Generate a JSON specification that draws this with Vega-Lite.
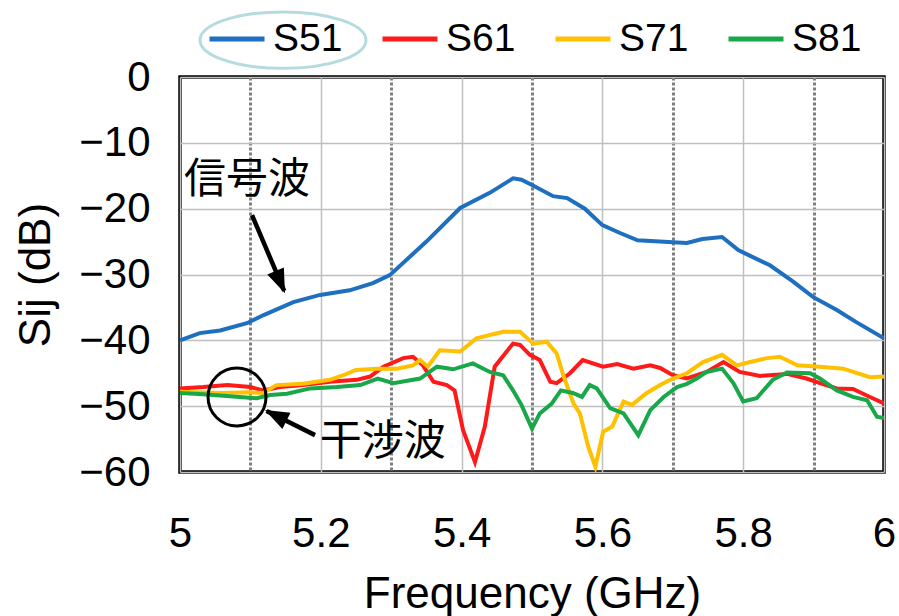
{
  "$schema": "https://vega.github.io/schema/vega-lite/v6.json",
  "width": 704,
  "height": 395,
  "autosize": {"type": "none"},
  "padding": {"left": 180, "top": 77, "right": 15, "bottom": 144},
  "background": "white",
  "config": {
    "view": {"stroke": "black", "strokeWidth": 3.5},
    "font": "Liberation Sans"
  },
  "datasets": {
    "curves": [
      {"s":"S51","f":5.000,"v":-40.0},{"s":"S51","f":5.028,"v":-38.9},{"s":"S51","f":5.057,"v":-38.5},{"s":"S51","f":5.095,"v":-37.4},{"s":"S51","f":5.118,"v":-36.2},{"s":"S51","f":5.161,"v":-34.2},{"s":"S51","f":5.199,"v":-33.1},{"s":"S51","f":5.241,"v":-32.4},{"s":"S51","f":5.274,"v":-31.3},{"s":"S51","f":5.298,"v":-30.1},{"s":"S51","f":5.350,"v":-25.0},{"s":"S51","f":5.398,"v":-19.9},{"s":"S51","f":5.440,"v":-17.6},{"s":"S51","f":5.473,"v":-15.4},{"s":"S51","f":5.485,"v":-15.6},{"s":"S51","f":5.500,"v":-16.4},{"s":"S51","f":5.530,"v":-18.1},{"s":"S51","f":5.550,"v":-18.4},{"s":"S51","f":5.575,"v":-20.0},{"s":"S51","f":5.600,"v":-22.5},{"s":"S51","f":5.625,"v":-23.7},{"s":"S51","f":5.650,"v":-24.8},{"s":"S51","f":5.700,"v":-25.1},{"s":"S51","f":5.720,"v":-25.2},{"s":"S51","f":5.742,"v":-24.6},{"s":"S51","f":5.770,"v":-24.3},{"s":"S51","f":5.793,"v":-26.3},{"s":"S51","f":5.838,"v":-28.6},{"s":"S51","f":5.870,"v":-31.0},{"s":"S51","f":5.899,"v":-33.4},{"s":"S51","f":5.933,"v":-35.4},{"s":"S51","f":5.960,"v":-37.2},{"s":"S51","f":6.000,"v":-39.7},
      {"s":"S61","f":5.000,"v":-47.3},{"s":"S61","f":5.033,"v":-47.1},{"s":"S61","f":5.067,"v":-46.8},{"s":"S61","f":5.100,"v":-47.1},{"s":"S61","f":5.118,"v":-47.6},{"s":"S61","f":5.142,"v":-47.1},{"s":"S61","f":5.175,"v":-46.8},{"s":"S61","f":5.213,"v":-46.3},{"s":"S61","f":5.251,"v":-46.0},{"s":"S61","f":5.270,"v":-45.5},{"s":"S61","f":5.289,"v":-44.0},{"s":"S61","f":5.317,"v":-42.7},{"s":"S61","f":5.331,"v":-42.5},{"s":"S61","f":5.345,"v":-43.8},{"s":"S61","f":5.360,"v":-46.3},{"s":"S61","f":5.379,"v":-46.8},{"s":"S61","f":5.390,"v":-47.6},{"s":"S61","f":5.402,"v":-53.6},{"s":"S61","f":5.419,"v":-58.5},{"s":"S61","f":5.433,"v":-53.1},{"s":"S61","f":5.447,"v":-44.0},{"s":"S61","f":5.473,"v":-40.5},{"s":"S61","f":5.483,"v":-40.7},{"s":"S61","f":5.497,"v":-42.2},{"s":"S61","f":5.511,"v":-43.0},{"s":"S61","f":5.526,"v":-46.3},{"s":"S61","f":5.535,"v":-46.5},{"s":"S61","f":5.554,"v":-45.0},{"s":"S61","f":5.572,"v":-43.0},{"s":"S61","f":5.601,"v":-44.0},{"s":"S61","f":5.621,"v":-43.6},{"s":"S61","f":5.644,"v":-44.3},{"s":"S61","f":5.668,"v":-43.8},{"s":"S61","f":5.682,"v":-44.2},{"s":"S61","f":5.700,"v":-45.3},{"s":"S61","f":5.720,"v":-45.8},{"s":"S61","f":5.748,"v":-44.8},{"s":"S61","f":5.772,"v":-43.3},{"s":"S61","f":5.795,"v":-44.8},{"s":"S61","f":5.824,"v":-45.4},{"s":"S61","f":5.862,"v":-45.1},{"s":"S61","f":5.890,"v":-45.8},{"s":"S61","f":5.909,"v":-46.5},{"s":"S61","f":5.933,"v":-47.3},{"s":"S61","f":5.956,"v":-47.4},{"s":"S61","f":5.980,"v":-48.6},{"s":"S61","f":6.000,"v":-49.6},
      {"s":"S71","f":5.000,"v":-47.8},{"s":"S71","f":5.057,"v":-48.0},{"s":"S71","f":5.100,"v":-47.9},{"s":"S71","f":5.118,"v":-48.0},{"s":"S71","f":5.137,"v":-46.8},{"s":"S71","f":5.175,"v":-46.6},{"s":"S71","f":5.213,"v":-46.0},{"s":"S71","f":5.232,"v":-45.3},{"s":"S71","f":5.250,"v":-44.5},{"s":"S71","f":5.280,"v":-44.3},{"s":"S71","f":5.308,"v":-44.3},{"s":"S71","f":5.331,"v":-43.8},{"s":"S71","f":5.341,"v":-43.0},{"s":"S71","f":5.352,"v":-44.0},{"s":"S71","f":5.369,"v":-41.5},{"s":"S71","f":5.398,"v":-41.7},{"s":"S71","f":5.421,"v":-39.7},{"s":"S71","f":5.459,"v":-38.7},{"s":"S71","f":5.483,"v":-38.7},{"s":"S71","f":5.502,"v":-40.5},{"s":"S71","f":5.521,"v":-40.2},{"s":"S71","f":5.535,"v":-42.0},{"s":"S71","f":5.545,"v":-45.5},{"s":"S71","f":5.559,"v":-49.6},{"s":"S71","f":5.568,"v":-51.1},{"s":"S71","f":5.580,"v":-56.2},{"s":"S71","f":5.590,"v":-59.2},{"s":"S71","f":5.601,"v":-53.9},{"s":"S71","f":5.614,"v":-53.1},{"s":"S71","f":5.630,"v":-49.3},{"s":"S71","f":5.642,"v":-49.8},{"s":"S71","f":5.663,"v":-48.0},{"s":"S71","f":5.682,"v":-46.8},{"s":"S71","f":5.700,"v":-45.8},{"s":"S71","f":5.720,"v":-45.0},{"s":"S71","f":5.743,"v":-43.3},{"s":"S71","f":5.770,"v":-42.2},{"s":"S71","f":5.791,"v":-43.8},{"s":"S71","f":5.810,"v":-43.3},{"s":"S71","f":5.834,"v":-42.7},{"s":"S71","f":5.852,"v":-42.5},{"s":"S71","f":5.877,"v":-43.8},{"s":"S71","f":5.909,"v":-44.0},{"s":"S71","f":5.942,"v":-44.3},{"s":"S71","f":5.980,"v":-45.6},{"s":"S71","f":6.000,"v":-45.5},
      {"s":"S81","f":5.000,"v":-48.0},{"s":"S81","f":5.033,"v":-48.2},{"s":"S81","f":5.071,"v":-48.5},{"s":"S81","f":5.109,"v":-48.8},{"s":"S81","f":5.128,"v":-48.3},{"s":"S81","f":5.152,"v":-48.1},{"s":"S81","f":5.185,"v":-47.3},{"s":"S81","f":5.223,"v":-47.1},{"s":"S81","f":5.256,"v":-46.8},{"s":"S81","f":5.281,"v":-45.8},{"s":"S81","f":5.303,"v":-46.5},{"s":"S81","f":5.341,"v":-45.8},{"s":"S81","f":5.365,"v":-44.0},{"s":"S81","f":5.388,"v":-44.4},{"s":"S81","f":5.416,"v":-43.5},{"s":"S81","f":5.440,"v":-44.8},{"s":"S81","f":5.459,"v":-45.3},{"s":"S81","f":5.473,"v":-47.6},{"s":"S81","f":5.485,"v":-49.8},{"s":"S81","f":5.500,"v":-53.4},{"s":"S81","f":5.511,"v":-51.1},{"s":"S81","f":5.528,"v":-49.6},{"s":"S81","f":5.541,"v":-47.6},{"s":"S81","f":5.558,"v":-48.0},{"s":"S81","f":5.571,"v":-48.6},{"s":"S81","f":5.582,"v":-46.8},{"s":"S81","f":5.592,"v":-47.3},{"s":"S81","f":5.611,"v":-50.3},{"s":"S81","f":5.630,"v":-51.1},{"s":"S81","f":5.651,"v":-54.4},{"s":"S81","f":5.668,"v":-50.6},{"s":"S81","f":5.687,"v":-48.6},{"s":"S81","f":5.706,"v":-47.1},{"s":"S81","f":5.720,"v":-46.6},{"s":"S81","f":5.734,"v":-45.8},{"s":"S81","f":5.748,"v":-44.8},{"s":"S81","f":5.770,"v":-44.3},{"s":"S81","f":5.786,"v":-46.5},{"s":"S81","f":5.800,"v":-49.3},{"s":"S81","f":5.819,"v":-48.8},{"s":"S81","f":5.842,"v":-46.0},{"s":"S81","f":5.862,"v":-44.9},{"s":"S81","f":5.895,"v":-45.0},{"s":"S81","f":5.909,"v":-45.8},{"s":"S81","f":5.933,"v":-47.6},{"s":"S81","f":5.956,"v":-48.6},{"s":"S81","f":5.976,"v":-49.1},{"s":"S81","f":5.990,"v":-51.6},{"s":"S81","f":6.000,"v":-51.8}
    ],
    "labels": [
      {"t":"信号波","f":5.095,"v":-15.6},
      {"t":"干涉波","f":5.288,"v":-55.5}
    ],
    "arrows": [
      {"f":5.1023,"v":-20.97,"f2":5.1480,"v2":-32.5},
      {"f":5.1918,"v":-54.4,"f2":5.1230,"v2":-50.75}
    ]
  },
  "layer": [
    {
      "data": {"name": "curves"},
      "mark": {"type": "line", "strokeWidth": 4, "clip": true},
      "encoding": {
        "x": {
          "field": "f", "type": "quantitative",
          "scale": {"domain": [5, 6], "nice": false, "zero": false},
          "axis": {
            "values": [5, 5.1, 5.2, 5.3, 5.4, 5.5, 5.6, 5.7, 5.8, 5.9, 6],
            "format": "~g",
            "labelExpr": "round(datum.value*10)%2==0 ? datum.label : ''",
            "title": "Frequency (GHz)",
            "grid": true,
            "gridColor": {"condition": {"test": "round(datum.value*10)%2==1", "value": "#7f7f7f"}, "value": "#bfbfbf"},
            "gridDash": {"condition": {"test": "round(datum.value*10)%2==1", "value": [3, 2]}, "value": []},
            "gridWidth": {"condition": {"test": "round(datum.value*10)%2==1", "value": 3}, "value": 1.5},
            "ticks": false, "domain": false,
            "labelFontSize": 42, "labelPadding": 41, "labelColor": "black",
            "labelFlush": false, "labelOverlap": false,
            "titleFontSize": 44, "titleFontWeight": "normal", "titleColor": "black", "titlePadding": 18
          }
        },
        "y": {
          "field": "v", "type": "quantitative",
          "scale": {"domain": [-60, 0], "nice": false, "zero": false},
          "axis": {
            "values": [-60, -50, -40, -30, -20, -10, 0],
            "title": "Sij (dB)",
            "grid": true, "gridColor": "#bfbfbf", "gridWidth": 1.5,
            "ticks": false, "domain": false,
            "labelFontSize": 42, "labelPadding": 30, "labelColor": "black",
            "labelFlush": false, "labelOverlap": false,
            "titleFontSize": 44, "titleFontWeight": "normal", "titleColor": "black", "titlePadding": 20
          }
        },
        "color": {
          "field": "s", "type": "nominal",
          "scale": {"domain": ["S51", "S61", "S71", "S81"], "range": ["#1E6FBF", "#FF1A1A", "#FFC000", "#18A84A"]},
          "legend": {
            "orient": "none", "legendX": 27, "legendY": -68,
            "direction": "horizontal", "title": null,
            "symbolType": "stroke", "symbolSize": 3025, "symbolStrokeWidth": 5,
            "labelFontSize": 39, "labelColor": "black", "labelOffset": 6,
            "columnPadding": 29, "labelLimit": 200
          }
        }
      }
    },
    {
      "data": {"values": [{"f": 5.1463, "v": 5.6}]},
      "mark": {"type": "point", "shape": "M-1,0 A1,0.34 0 1,0 1,0 A1,0.34 0 1,0 -1,0 Z", "size": 27556, "filled": false, "stroke": "#b4dcdf", "strokeWidth": 3, "opacity": 1, "clip": false},
      "encoding": {"x": {"field": "f", "type": "quantitative"}, "y": {"field": "v", "type": "quantitative"}}
    },
    {
      "data": {"values": [{"f": 5.081, "v": -48.6}]},
      "mark": {"type": "point", "shape": "circle", "size": 3364, "filled": false, "stroke": "black", "strokeWidth": 3, "opacity": 1, "clip": false},
      "encoding": {"x": {"field": "f", "type": "quantitative"}, "y": {"field": "v", "type": "quantitative"}}
    },
    {
      "data": {"name": "arrows"},
      "mark": {"type": "rule", "stroke": "black", "strokeWidth": 4.5, "clip": false},
      "encoding": {
        "x": {"field": "f", "type": "quantitative"}, "y": {"field": "v", "type": "quantitative"},
        "x2": {"field": "f2"}, "y2": {"field": "v2"}
      }
    },
    {
      "data": {"values": [{"f": 5.1491, "v": -32.83}]},
      "mark": {"type": "point", "shape": "M0,0 L-0.6,1.6 L0.6,1.6 Z", "size": 900, "filled": true, "fill": "black", "opacity": 1, "angle": 157, "clip": false},
      "encoding": {"x": {"field": "f", "type": "quantitative"}, "y": {"field": "v", "type": "quantitative"}}
    },
    {
      "data": {"values": [{"f": 5.1207, "v": -50.6}]},
      "mark": {"type": "point", "shape": "M0,0 L-0.6,1.6 L0.6,1.6 Z", "size": 900, "filled": true, "fill": "black", "opacity": 1, "angle": 296.6, "clip": false},
      "encoding": {"x": {"field": "f", "type": "quantitative"}, "y": {"field": "v", "type": "quantitative"}}
    },
    {
      "data": {"name": "labels"},
      "mark": {"type": "text", "font": "Noto Sans CJK JP", "fontSize": 42, "fill": "black", "align": "center", "baseline": "middle", "clip": false},
      "encoding": {
        "x": {"field": "f", "type": "quantitative"}, "y": {"field": "v", "type": "quantitative"},
        "text": {"field": "t"}
      }
    }
  ]
}
